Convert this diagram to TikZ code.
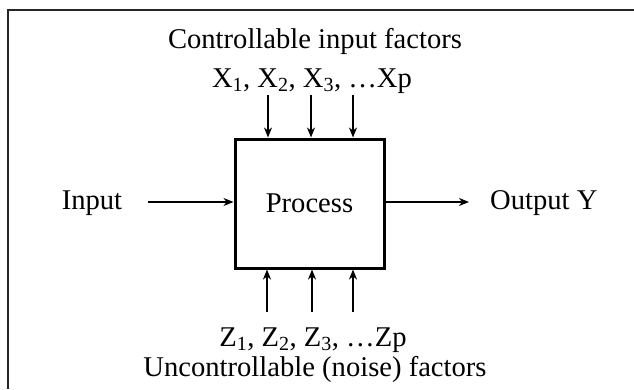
\documentclass[tikz,border=0pt]{standalone}
\usepackage{fontspec}
\setmainfont{Liberation Serif}
\usetikzlibrary{arrows.meta}
\begin{document}
\begin{tikzpicture}[x=1pt,y=-1pt,
 lbl/.style={font=\fontsize{28.6}{34}\selectfont, inner sep=0pt, anchor=base},
 arr/.style={line width=1.6pt, -{Stealth[length=10pt,width=8pt,inset=3pt]}},
 procbox/.style={draw, line width=3pt, minimum width=149pt, minimum height=129pt, inner sep=0pt, font=\fontsize{28.6}{34}\selectfont}
]
\useasboundingbox (0,0) rectangle (634,389);
\draw[line width=2.5pt, color=black!85] (8,389) -- (8,10) -- (634,10);
\node[procbox] (proc) at (309.5,203.5) {Process};

\node[lbl] (ctitle) at (315,48) {Controllable input factors};
\node[lbl] (xs) at (312,87) {X\textsubscript{1}, X\textsubscript{2}, X\textsubscript{3}, …Xp};
\node[lbl] (zs) at (313,346) {Z\textsubscript{1}, Z\textsubscript{2}, Z\textsubscript{3}, …Zp};
\node[lbl] (utitle) at (315,376) {Uncontrollable (noise) factors};
\node[lbl] (input) at (92,209) {Input};
\node[lbl, anchor=base west] (output) at (490,209) {Output Y};

\coordinate (t1) at (268,95);
\coordinate (t2) at (311,95);
\coordinate (t3) at (353,95);
\coordinate (b1) at (267,312);
\coordinate (b2) at (312,312);
\coordinate (b3) at (353,312);
\coordinate (inL) at (148,202);
\coordinate (outR) at (469,202);

\foreach \c in {t1,t2,t3} \draw[arr] (\c) -- (\c |- proc.north);
\foreach \c in {b1,b2,b3} \draw[arr] (\c) -- (\c |- proc.south);
\draw[arr] (inL) -- (inL -| proc.west);
\draw[arr] (proc.east |- outR) -- (outR);
\end{tikzpicture}
\end{document}
